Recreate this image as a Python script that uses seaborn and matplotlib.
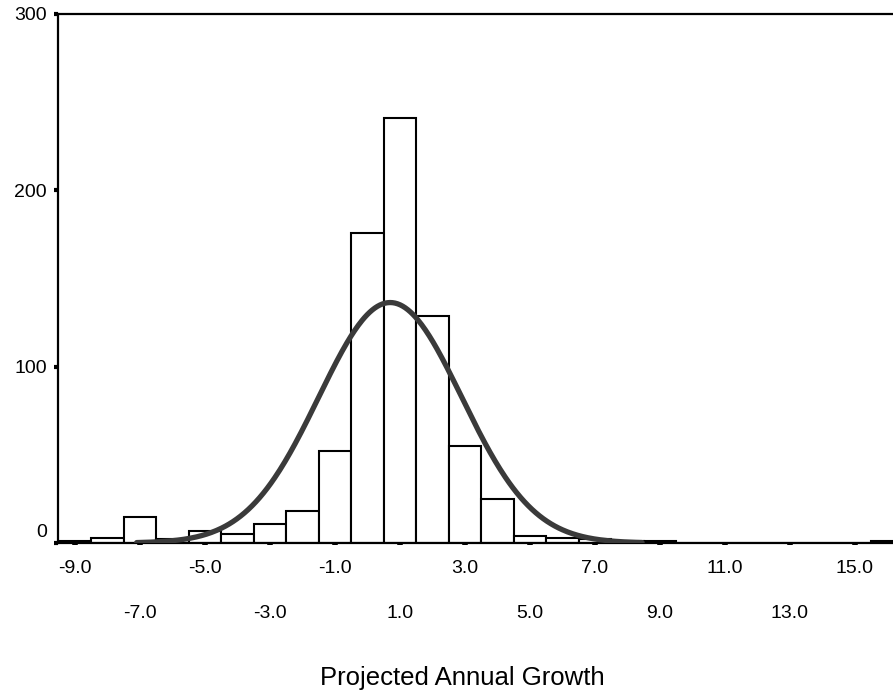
import numpy as np
import pandas as pd
import matplotlib
matplotlib.use("Agg")
import matplotlib.pyplot as plt
from matplotlib.transforms import ScaledTranslation
import seaborn as sns

# Frequency of projected annual growth, one-unit bins centred on integers
bin_centers = [-9, -8, -7, -6, -5, -4, -3, -2, -1, 0, 1, 2, 3, 4, 5, 6, 7, 8, 9,
               10, 11, 12, 13, 14, 15, 16]
counts = [1, 3, 15, 2, 7, 5, 11, 18, 52, 176, 241, 129, 55, 25, 4, 3, 2, 1, 1,
          0, 0, 0, 0, 0, 0, 1]

# Normal curve overlay parameters
curve_mean = 0.7
curve_sd = 2.2
curve_range = (-7.1, 8.45)

row1_ticks = [-9, -5, -1, 3, 7, 11, 15]
row2_ticks = [-7, -3, 1, 5, 9, 13]
y_ticks = [0, 100, 200, 300]
x_label = "Projected Annual Growth"

sns.set_theme(style="white")
plt.rcParams["font.family"] = ["Liberation Sans", "DejaVu Sans"]

fig = plt.figure(figsize=(8.93, 6.92), dpi=100)
ax = fig.add_axes([0.065, 0.2153, 0.935, 0.7645])

df = pd.DataFrame({"value": bin_centers, "count": counts})
sns.histplot(data=df, x="value", weights="count", discrete=True,
             color="white", edgecolor="black", linewidth=1.5, alpha=1,
             ax=ax, zorder=2)

total = sum(counts)
xs = np.linspace(curve_range[0], curve_range[1], 400)
ys = total / (curve_sd * np.sqrt(2 * np.pi)) * np.exp(-0.5 * ((xs - curve_mean) / curve_sd) ** 2)
sns.lineplot(x=xs, y=ys, color="#3a3a3a", linewidth=3.8, ax=ax, zorder=3)

ax.set_xlim(-9.52, 16.17)
ax.set_ylim(0, 300)

ax.set_xticks(row1_ticks)
ax.set_xticklabels([f"{t:.1f}" for t in row1_ticks])
ax.set_xticks(row2_ticks, minor=True)
ax.set_xticklabels([f"{t:.1f}" for t in row2_ticks], minor=True)
ax.set_yticks(y_ticks)
ax.set_yticklabels([str(t) for t in y_ticks])

ax.tick_params(axis="x", which="both", direction="out", length=1.5, width=4,
               color="black", labelsize=14, labelcolor="black", bottom=True)
ax.tick_params(axis="x", which="major", pad=10.5)
ax.tick_params(axis="x", which="minor", pad=43)
ax.tick_params(axis="y", direction="out", length=3, width=3, color="black",
               labelsize=14, labelcolor="black", pad=5, left=True)

for lab in ax.get_yticklabels():
    if lab.get_text() == "0":
        lab.set_transform(lab.get_transform() + ScaledTranslation(0, 9 / 72, fig.dpi_scale_trans))

for side in ["left", "bottom", "top"]:
    ax.spines[side].set_visible(True)
    ax.spines[side].set_color("black")
    ax.spines[side].set_linewidth(1.6)
ax.spines["right"].set_visible(False)

ax.set_ylabel("")
ax.set_xlabel("")
fig.text(462 / 893, 1 - 678 / 692, x_label, fontsize=18.5, color="black",
         ha="center", va="center")

fig.savefig("out.png", dpi=100, facecolor="white")
